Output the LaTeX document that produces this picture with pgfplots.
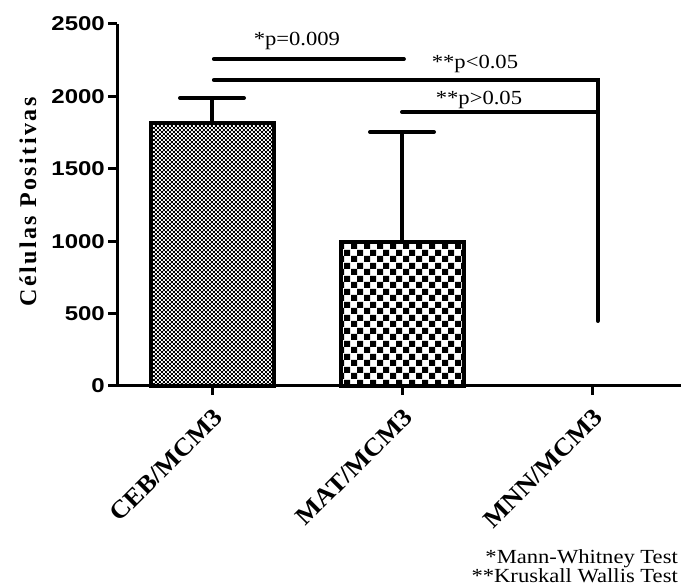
\documentclass[border=0pt]{standalone}
\usepackage{fontspec}
\setmainfont{Liberation Serif}
\newfontfamily\annfont[FakeStretch=1.13]{Liberation Serif}
\newfontfamily\tickfont[FakeStretch=1.2]{Liberation Sans}
\newfontfamily\xtickfont[FakeStretch=1.08]{Liberation Serif Bold}
\newfontfamily\ylabfont[LetterSpace=10]{Liberation Serif}
\usepackage{pgfplots}
\pgfplotsset{compat=1.18}
\usetikzlibrary{patterns}

\pgfdeclarepatternformonly{checkfine}{\pgfpointorigin}{\pgfpoint{4.4bp}{4.4bp}}{\pgfpoint{4.4bp}{4.4bp}}{%
 \pgfpathrectangle{\pgfpointorigin}{\pgfpoint{2.2bp}{2.2bp}}%
 \pgfpathrectangle{\pgfpoint{2.2bp}{2.2bp}}{\pgfpoint{2.2bp}{2.2bp}}%
 \pgfusepath{fill}}
\pgfdeclarepatternformonly{checkcoarse}{\pgfpointorigin}{\pgfpoint{13bp}{13bp}}{\pgfpoint{13bp}{13bp}}{%
 \pgfpathrectangle{\pgfpointorigin}{\pgfpoint{6.5bp}{6.5bp}}%
 \pgfpathrectangle{\pgfpoint{6.5bp}{6.5bp}}{\pgfpoint{6.5bp}{6.5bp}}%
 \pgfusepath{fill}}

\begin{document}
\begin{tikzpicture}[x=1bp,y=1bp]
\path[use as bounding box] (0,0) rectangle (681,587);
\begin{axis}[
  at={(117bp,201bp)}, anchor=south west,
  scale only axis, width=570bp, height=362bp,
  xmin=-0.5, xmax=2.5, ymin=0, ymax=2500,
  axis x line=bottom, axis y line=left,
  axis line style={line width=3bp,-},
  xtick={0,1,2}, xticklabels={CEB/MCM3,MAT/MCM3,MNN/MCM3},
  ytick={0,500,...,2500},
  yticklabels={0,500,1000,1500,2000,2500},
  tick align=outside, major tick length=9bp,
  tick style={line width=3bp, black},
  every y tick label/.style={font=\tickfont\bfseries\fontsize{20bp}{24bp}\selectfont, anchor=east, inner sep=0pt, xshift=-3bp},
  xticklabel style={font=\xtickfont\fontsize{25bp}{29bp}\selectfont, xshift=6bp, yshift=-18bp, rotate=45, anchor=east, inner sep=0pt},
  clip=false,
]
\addplot[ybar, bar width=123bp, bar shift=0pt, draw=black, line width=4bp,
  pattern=checkfine, pattern color=black,
  error bars/.cd, y dir=plus, y explicit,
  error bar style={line width=3.5bp, black},
  error mark options={rotate=90, mark size=32bp, line width=4bp, line cap=round, black}]
  coordinates {(0,1816) +- (0,173)};
\addplot[ybar, bar width=123bp, bar shift=0pt, draw=black, line width=4bp,
  pattern=checkcoarse, pattern color=black,
  error bars/.cd, y dir=plus, y explicit,
  error bar style={line width=3.5bp, black},
  error mark options={rotate=90, mark size=32bp, line width=4bp, line cap=round, black}]
  coordinates {(1,994) +- (0,760)};
\draw[line width=4bp, line cap=round] (axis cs:0.01,2258) -- (axis cs:1.01,2258);
\draw[line width=4bp, line cap=round, line join=miter] (axis cs:0.01,2113) -- (axis cs:2.03,2113) -- (axis cs:2.03,449);
\draw[line width=4bp, line cap=round] (axis cs:1.0,1892) -- (axis cs:2.03,1892);
\node[font=\annfont\fontsize{20bp}{24bp}\selectfont, anchor=base, inner sep=0pt] at (axis cs:0.447,2348) {*p=0.009};
\node[font=\annfont\fontsize{20bp}{24bp}\selectfont, anchor=base, inner sep=0pt] at (axis cs:1.384,2196) {**p<0.05};
\node[font=\annfont\fontsize{20bp}{24bp}\selectfont, anchor=base, inner sep=0pt] at (axis cs:1.405,1941) {**p>0.05};
\end{axis}
\node[rotate=90, anchor=base, inner sep=0pt, font=\ylabfont\bfseries\fontsize{24bp}{28bp}\selectfont] at (36,385) {Células Positivas};
\node[anchor=base east, inner sep=0pt, font=\annfont\fontsize{20bp}{24bp}\selectfont] at (678,23) {*Mann-Whitney Test};
\node[anchor=base east, inner sep=0pt, font=\annfont\fontsize{20bp}{24bp}\selectfont] at (678,4) {**Kruskall Wallis Test};
\end{tikzpicture}
\end{document}
